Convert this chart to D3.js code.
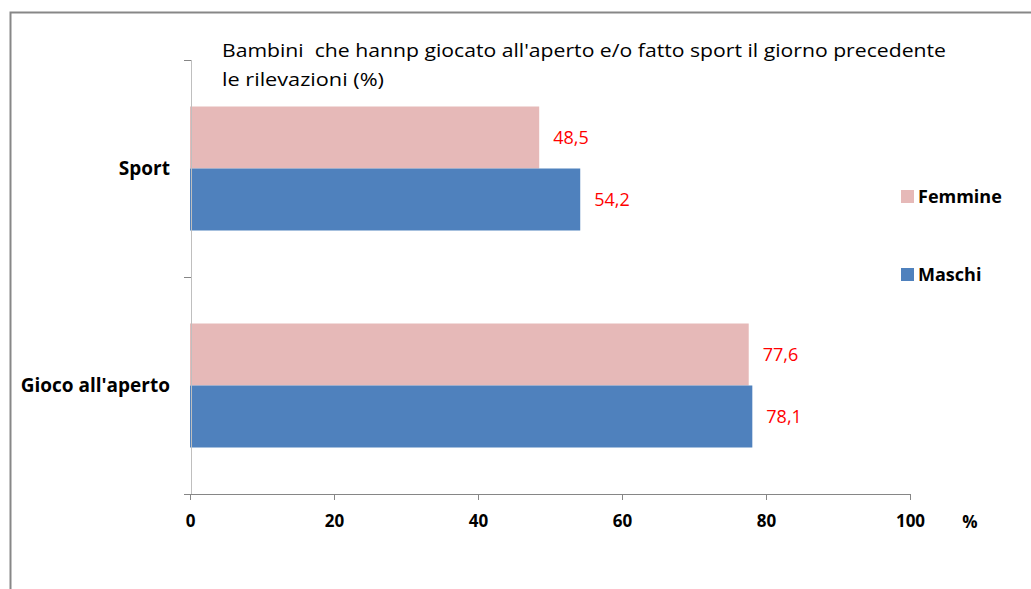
<!DOCTYPE html>
<html><head><meta charset="utf-8">
<script src="https://cdn.jsdelivr.net/npm/d3@7"></script>
<style>body{margin:0;background:#fff}svg{display:block}text{font-family:"Open Sans","Liberation Sans",sans-serif}</style>
</head><body>
<svg id="c" width="1031" height="589"></svg>
<script>
const categories = ["Sport", "Gioco all'aperto"];
const seriesNames = ["Femmine", "Maschi"];
const femmine = [48.5, 77.6];
const maschi = [54.2, 78.1];
const xTicks = [0, 20, 40, 60, 80, 100];
const colors = ["#E6B9B8", "#4F81BD"];
const titleLines = ["Bambini  che hannp giocato all'aperto e/o fatto sport il giorno precedente", "le rilevazioni (%)"];
const titleWidths = [724, 162];

const svg = d3.select("#c");
svg.append("path").attr("d","M10.5,589 V12.5 H1031").attr("fill","none").attr("stroke","#878787").attr("stroke-width",2);

const x = d3.scaleLinear().domain([0,100]).range([190,910]);
const y = d3.scaleBand().domain(categories).range([60,494]);
const inner = d3.scaleBand().domain(seriesNames).range([0,y.bandwidth()]).paddingOuter(0.75);

svg.append("g").selectAll("text").data(titleLines).join("text")
  .attr("x",222).attr("y",(d,i)=>57+i*29).attr("font-size",18.5).attr("fill","#000")
  .style("white-space","pre")
  .attr("textLength",(d,i)=>titleWidths[i]).attr("lengthAdjust","spacingAndGlyphs")
  .text(d=>d);

const series = [femmine, maschi];
series.forEach((vals,si)=>{
  const g = svg.append("g");
  g.selectAll("rect").data(categories).join("rect")
    .attr("x",x(0)).attr("y",c=>y(c)+inner(seriesNames[si]))
    .attr("width",(c,i)=>x(vals[i])-x(0)).attr("height",inner.bandwidth())
    .attr("fill",colors[si]);
  g.selectAll("text").data(categories).join("text")
    .attr("x",(c,i)=>x(vals[i])+14).attr("y",c=>y(c)+inner(seriesNames[si])+inner.bandwidth()/2)
    .attr("dy","0.35em").attr("font-size",18).attr("fill","#FF0000")
    .text((c,i)=>d3.format(".1f")(vals[i]).replace(".",","));
});

const xAxis = svg.append("g").attr("transform","translate(0,494)")
  .call(d3.axisBottom(x).tickValues(xTicks).tickSize(6).tickSizeOuter(0));
xAxis.select(".domain").attr("stroke","#868686").attr("d","M184,0.5H910");
xAxis.selectAll(".tick line").attr("stroke","#868686");
xAxis.selectAll(".tick text").attr("font-size",17).attr("font-weight","bold").attr("fill","#000").attr("y",21).attr("dy","0.71em")
  .attr("font-family","Open Sans");
svg.append("text").attr("x",970).attr("y",528).attr("text-anchor","middle").attr("font-size",17).attr("font-weight","bold").text("%");

const yAxis = svg.append("g").attr("transform","translate(191,0)")
  .call(d3.axisLeft(y).tickSize(0).tickSizeOuter(0));
yAxis.select(".domain").attr("stroke","#BFBFBF").attr("d","M0.5,60V494");
yAxis.selectAll(".tick text").attr("font-size",19).attr("font-weight","bold").attr("fill","#000").attr("x",-21);
const bounds = [60, y(categories[1]), 494];
svg.append("g").selectAll("line").data(bounds).join("line")
  .attr("x1",184).attr("x2",191).attr("y1",d=>d+0.5).attr("y2",d=>d+0.5).attr("stroke","#868686");

const leg = svg.append("g").selectAll("g").data(seriesNames).join("g")
  .attr("transform",(d,i)=>`translate(901,${190+i*78})`);
leg.append("rect").attr("width",13).attr("height",13).attr("fill",(d,i)=>colors[i]);
leg.append("text").attr("x",17).attr("y",6.5).attr("dy","0.35em").attr("font-size",18).attr("font-weight","bold").text(d=>d);
</script>
</body></html>
